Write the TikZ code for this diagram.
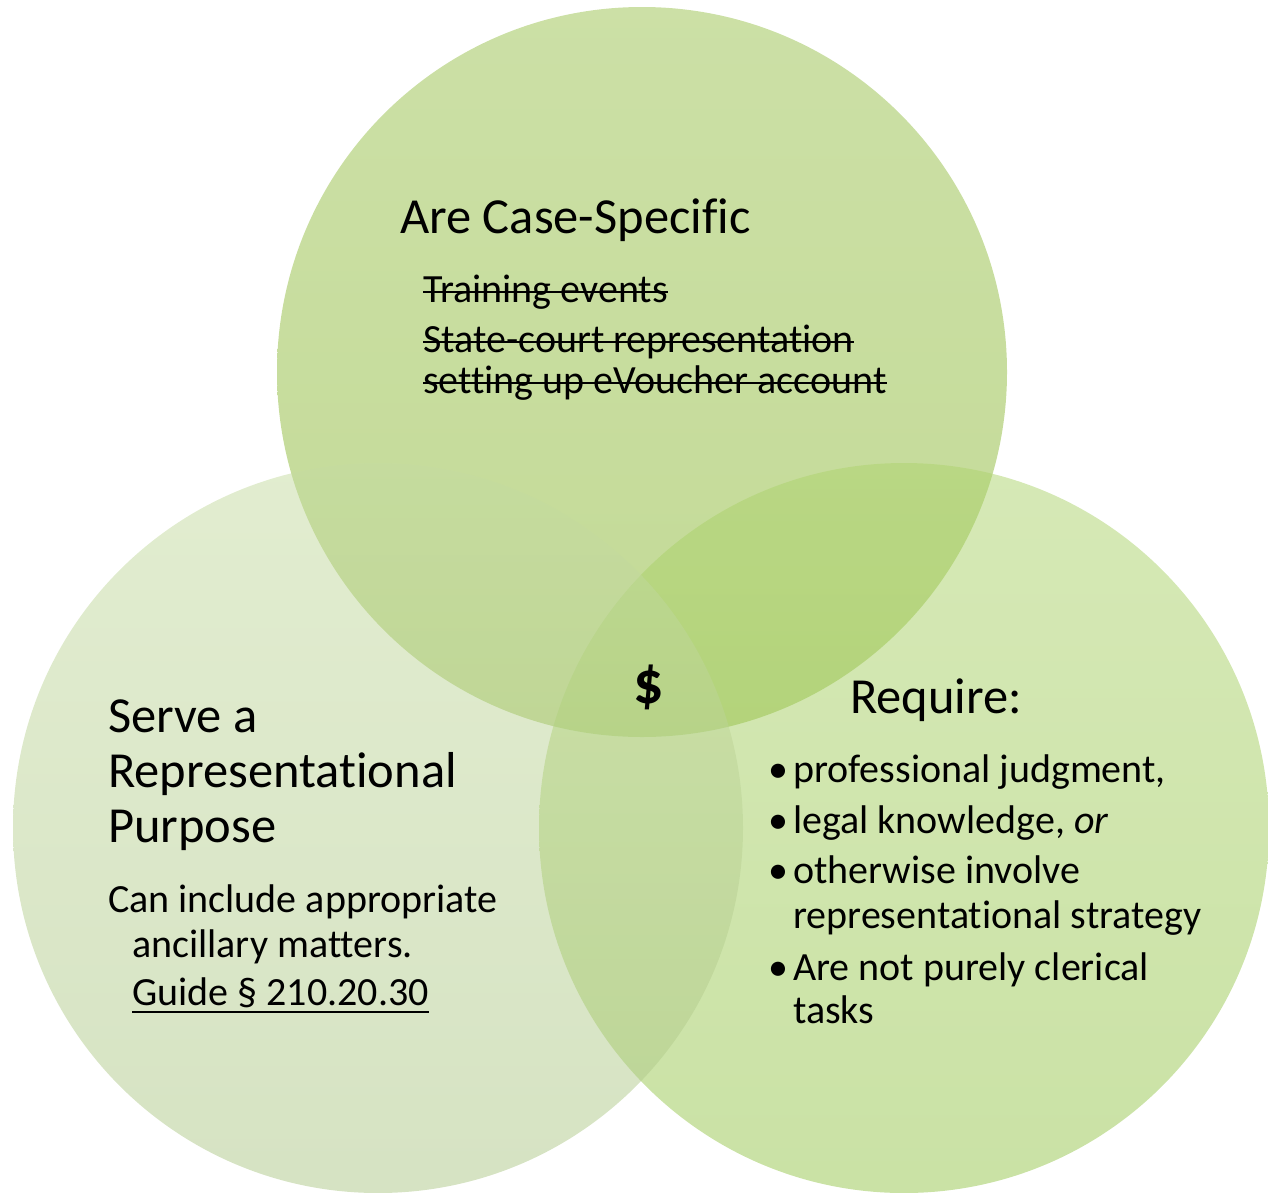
\documentclass[tikz,border=0pt]{standalone}
\usepackage{fontspec}
\setmainfont{Carlito}[Ligatures={NoCommon}]

\definecolor{casetop}{RGB}{153,193,77}
\definecolor{casebot}{RGB}{135,181,45}
\definecolor{reqtop}{RGB}{173,211,109}
\definecolor{reqbot}{RGB}{149,197,75}
\definecolor{servetop}{RGB}{197,219,161}
\definecolor{servebot}{RGB}{173,199,135}

\tikzset{
  venn/.style={circle, minimum size=730pt, inner sep=0pt, fill opacity=0.5},
  head/.style={anchor=base west, inner sep=0pt, font=\fontsize{50.5}{60}\selectfont},
  item/.style={anchor=base west, inner sep=0pt, font=\fontsize{40}{48}\selectfont},
  struck/.style={anchor=base west, inner sep=0pt, font=\fontsize{40}{48}\selectfont},
  rule/.style={line width=2pt, black},
}

\begin{document}
\begin{tikzpicture}[x=1pt, y=-1pt]
    \useasboundingbox (0,0) rectangle (1268,1192);

    \node[venn, top color=casetop, bottom color=casebot] (casespec) at (642,372) {};
    \node[venn, top color=reqtop, bottom color=reqbot] (require) at (904,828) {};
    \node[venn, top color=servetop, bottom color=servebot] (serve) at (378,828) {};

    \node[head] (casehead) at (400,233) {Are Case-Specific};
    \node[struck] (training) at (423,302) {Training events};
    \node[struck] (statecourt) at (423,352) {State-court representation};
    \node[struck] (evoucher) at (423,393) {setting up eVoucher account};
    \foreach \n in {training, statecourt, evoucher}
        \draw[rule] ([yshift=10pt]\n.base west) -- ([yshift=10pt]\n.base east);

    \node[anchor=base, inner sep=0pt, font=\fontsize{60}{70}\selectfont\bfseries] (dollar) at (649,703) {\$};

    \node[head] (reqhead) at (850,713) {Require:};
    \node[item] (b1) at (768,782) {•};
    \node[item] (judgment) at (793,782) {professional judgment,};
    \node[item] (b2) at (768,833) {•};
    \node[item] (knowledge) at (793,833) {legal knowledge, \emph{or}};
    \node[item] (b3) at (768,883) {•};
    \node[item] (involve) at (793,883) {otherwise involve};
    \node[item] (strategy) at (793,928) {representational strategy};
    \node[item] (b4) at (768,980) {•};
    \node[item] (clerical) at (793,980) {Are not purely clerical};
    \node[item] (tasks) at (793,1023) {tasks};

    \node[head] (servehead) at (108,732) {Serve a};
    \node[head] (reprhead) at (108,787) {Representational};
    \node[head] (purpose) at (108,842) {Purpose};
    \node[item] (include) at (108,912) {Can include appropriate};
    \node[item] (ancillary) at (132,957) {ancillary matters.};
    \node[item] (guide) at (132,1005) {Guide § 210.20.30};
    \draw[rule] ([yshift=-7pt]guide.base west) -- ([yshift=-7pt]guide.base east);
\end{tikzpicture}
\end{document}
